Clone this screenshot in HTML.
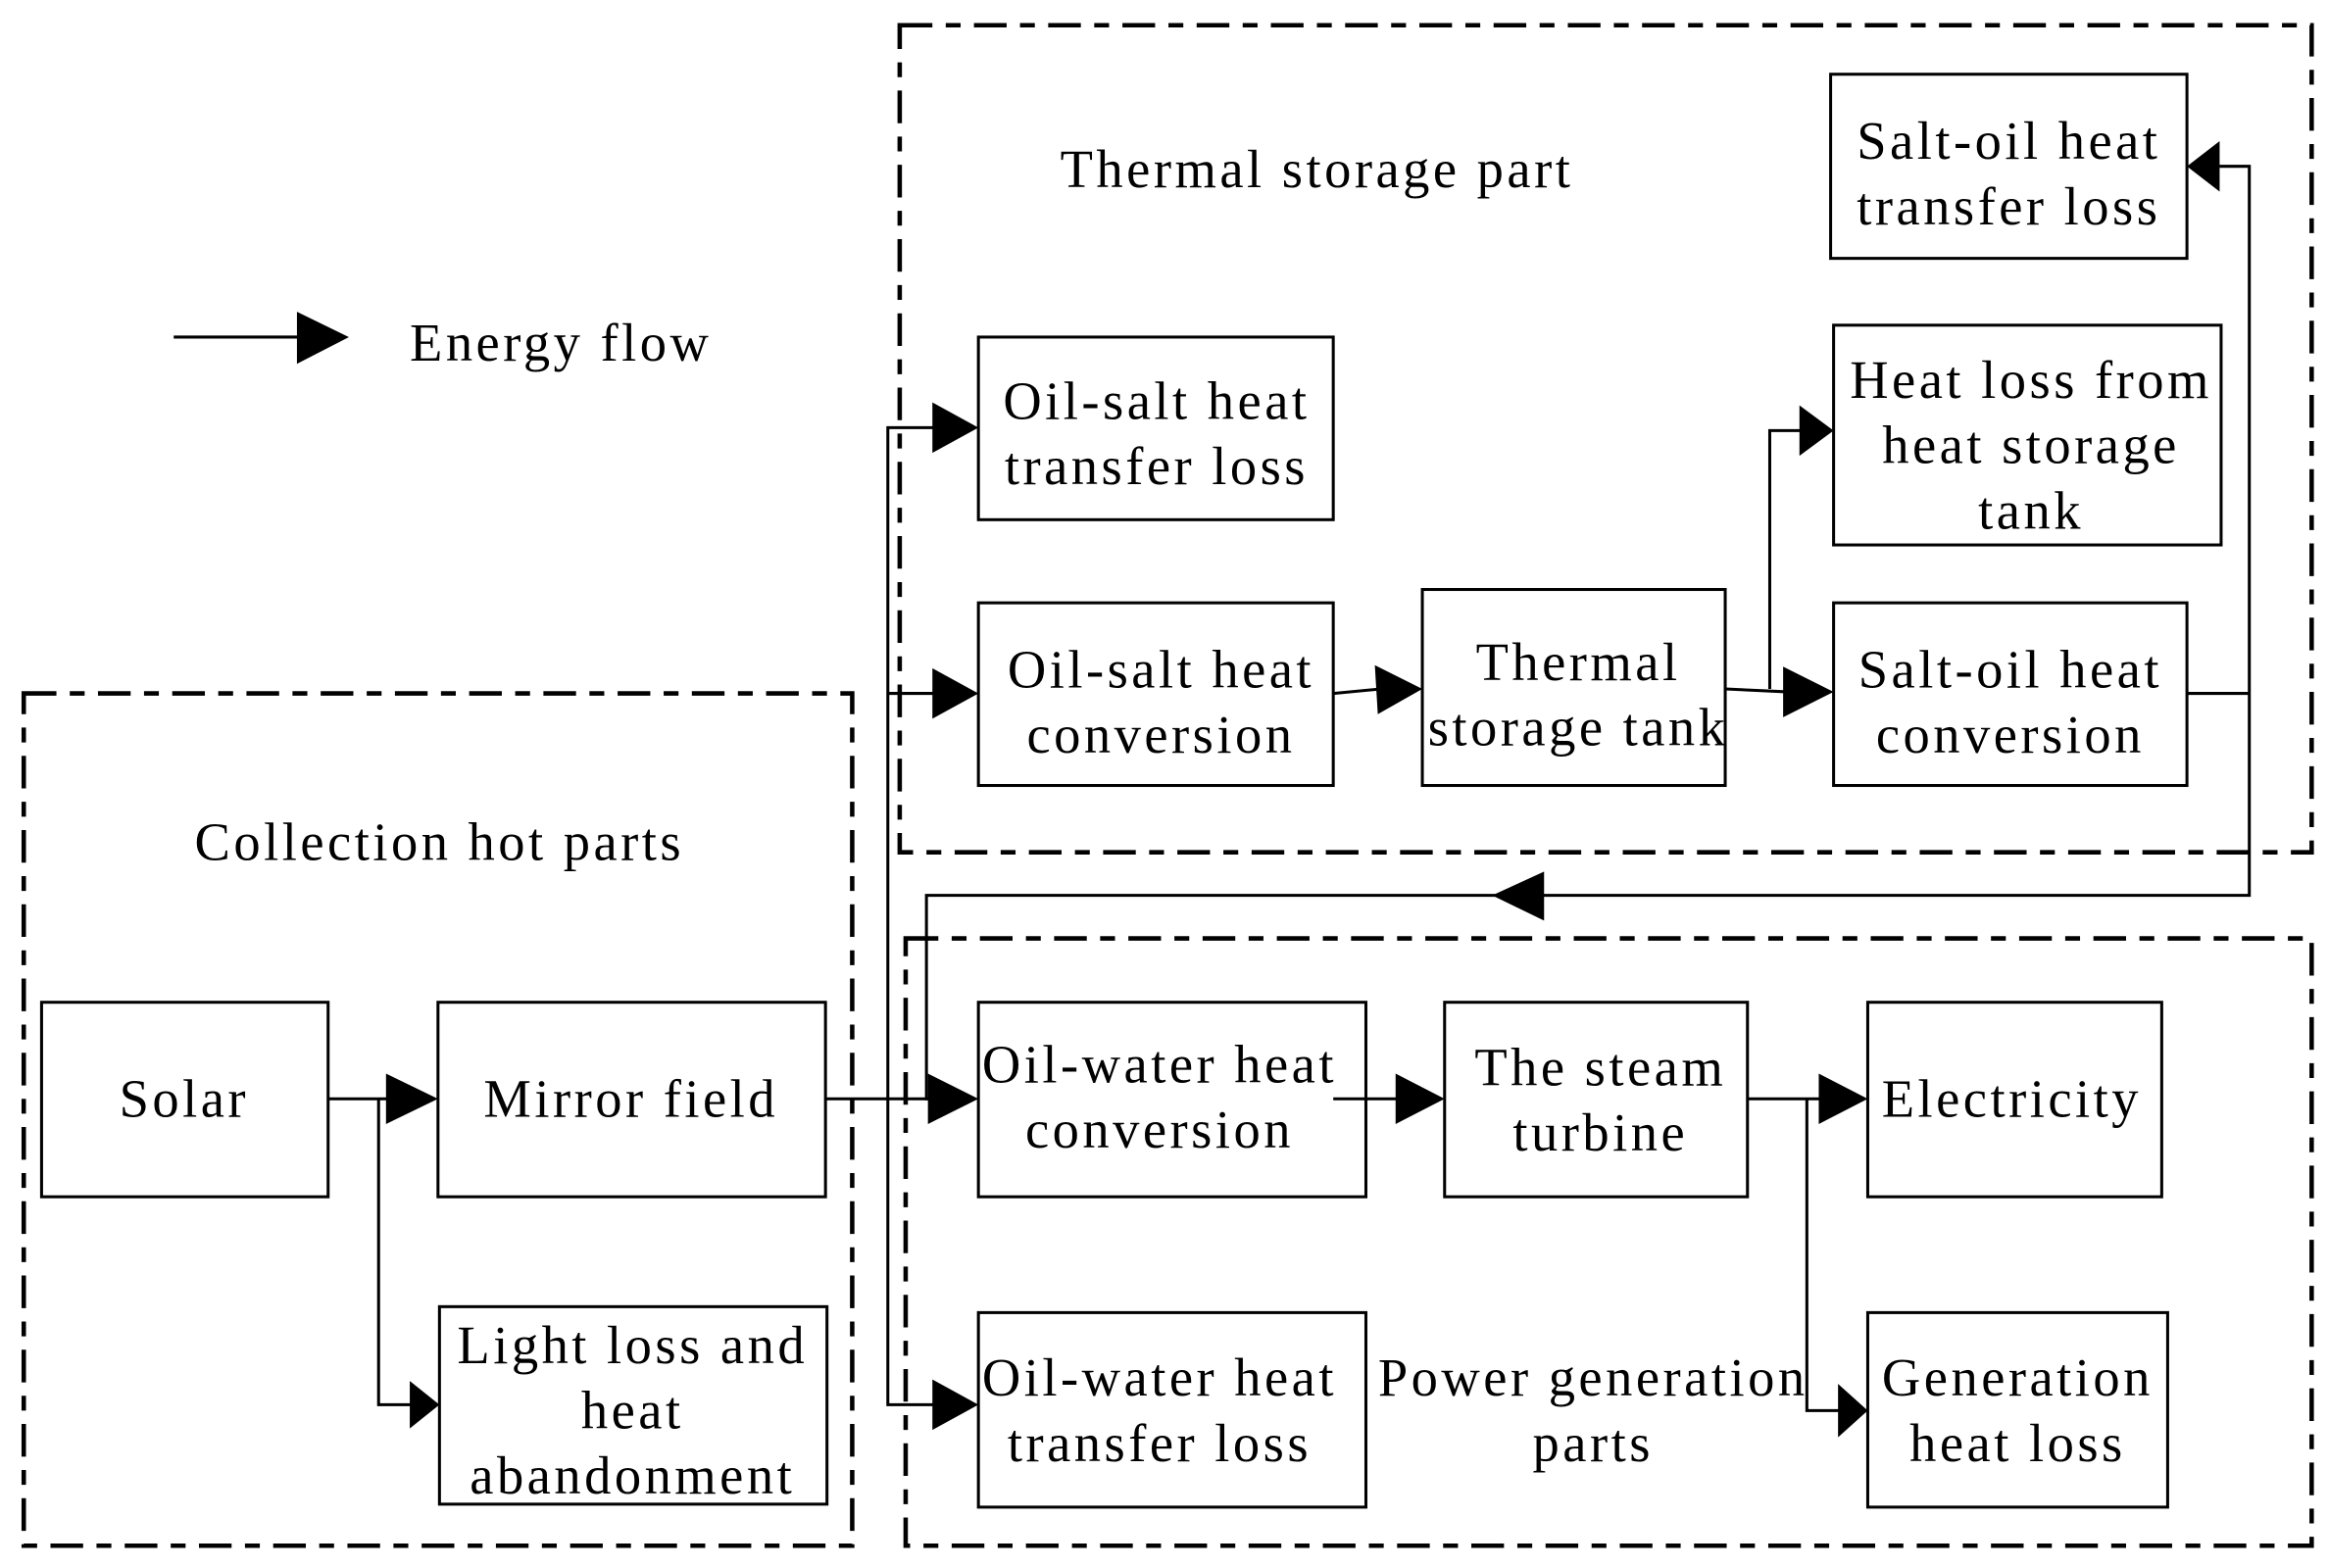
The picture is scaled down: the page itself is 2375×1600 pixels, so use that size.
<!DOCTYPE html>
<html><head><meta charset="utf-8"><style>
html,body{margin:0;padding:0;background:#fff}
svg{display:block}
text{font-family:"Liberation Serif",serif;font-size:36px;letter-spacing:2.3px;fill:#000;text-anchor:middle}
</style></head><body>
<svg width="2375" height="1600" viewBox="0 0 1568 1056" preserveAspectRatio="none" xmlns="http://www.w3.org/2000/svg">
<g fill="none" stroke="#000" stroke-width="3" stroke-dasharray="22,9,10,9">
<rect x="16" y="467" width="558" height="574"/>
<rect x="606" y="17" width="951" height="557"/>
<rect x="610" y="632" width="947" height="409"/>
</g>
<g fill="#fff" stroke="#000" stroke-width="2">
<rect x="28" y="675" width="193" height="131"/>
<rect x="295" y="675" width="261" height="131"/>
<rect x="296" y="880" width="261" height="133"/>
<rect x="659" y="227" width="239" height="123"/>
<rect x="659" y="406" width="239" height="123"/>
<rect x="958" y="397" width="204" height="132"/>
<rect x="1233" y="50" width="240" height="124"/>
<rect x="1235" y="219" width="261" height="148"/>
<rect x="1235" y="406" width="238" height="123"/>
<rect x="659" y="675" width="261" height="131"/>
<rect x="973" y="675" width="204" height="131"/>
<rect x="1258" y="675" width="198" height="131"/>
<rect x="659" y="884" width="261" height="131"/>
<rect x="1258" y="884" width="202" height="131"/>
</g>
<g fill="none" stroke="#000" stroke-width="2">
<path d="M117 227H205"/>
<path d="M221 740H265M255 740V946H280"/>
<path d="M556 740H630"/>
<path d="M630 288H598V946H630M598 467H630"/>
<path d="M898 467L930 464"/>
<path d="M1162 464L1205 466M1192 464V290H1215"/>
<path d="M1473 467H1515V112H1495M1515 467V603H624V740H630"/>
<path d="M898 740H945"/>
<path d="M1177 740H1230M1217 740V950H1240"/>
</g>
<g fill="#000">
<polygon points="200,210 235,227 200,245"/>
<polygon points="260,723 295,740 260,757"/>
<polygon points="276,930 296,946 276,962"/>
<polygon points="625,723 659,740 625,757"/>
<polygon points="628,271 659,288 628,305"/>
<polygon points="628,450 659,467 628,484"/>
<polygon points="628,929 659,946 628,963"/>
<polygon points="926,448 958,464 928,481"/>
<polygon points="1201,449 1235,466 1201,483"/>
<polygon points="1212,273 1235,290 1212,307"/>
<polygon points="1495,95 1473,112 1495,129"/>
<polygon points="1040,587 1005,603 1040,620"/>
<polygon points="940,723 973,740 940,757"/>
<polygon points="1225,723 1258,740 1225,757"/>
<polygon points="1238,932 1258,950 1238,968"/>
</g>
<text x="276" y="243" style="text-anchor:start">Energy flow</text>
<text x="887" y="126">Thermal storage part</text>
<text x="296" y="579">Collection hot parts</text>
<text x="124" y="752">Solar</text>
<text x="425" y="752">Mirror field</text>
<text x="426" y="918">Light loss and</text>
<text x="426" y="962">heat</text>
<text x="426" y="1006">abandonment</text>
<text x="779" y="282">Oil-salt heat</text>
<text x="779" y="326">transfer loss</text>
<text x="782" y="463">Oil-salt heat</text>
<text x="782" y="507">conversion</text>
<text x="1063" y="458">Thermal</text>
<text x="1063" y="502">storage tank</text>
<text x="1353" y="107">Salt-oil heat</text>
<text x="1353" y="151">transfer loss</text>
<text x="1368" y="268">Heat loss from</text>
<text x="1368" y="312">heat storage</text>
<text x="1368" y="356">tank</text>
<text x="1354" y="463">Salt-oil heat</text>
<text x="1354" y="507">conversion</text>
<text x="781" y="729">Oil-water heat</text>
<text x="781" y="773">conversion</text>
<text x="1078" y="731">The steam</text>
<text x="1078" y="775">turbine</text>
<text x="1355" y="752">Electricity</text>
<text x="781" y="940">Oil-water heat</text>
<text x="781" y="984">transfer loss</text>
<text x="1073" y="940">Power generation</text>
<text x="1073" y="984">parts</text>
<text x="1359" y="940">Generation</text>
<text x="1359" y="984">heat loss</text>
</svg>
</body></html>
